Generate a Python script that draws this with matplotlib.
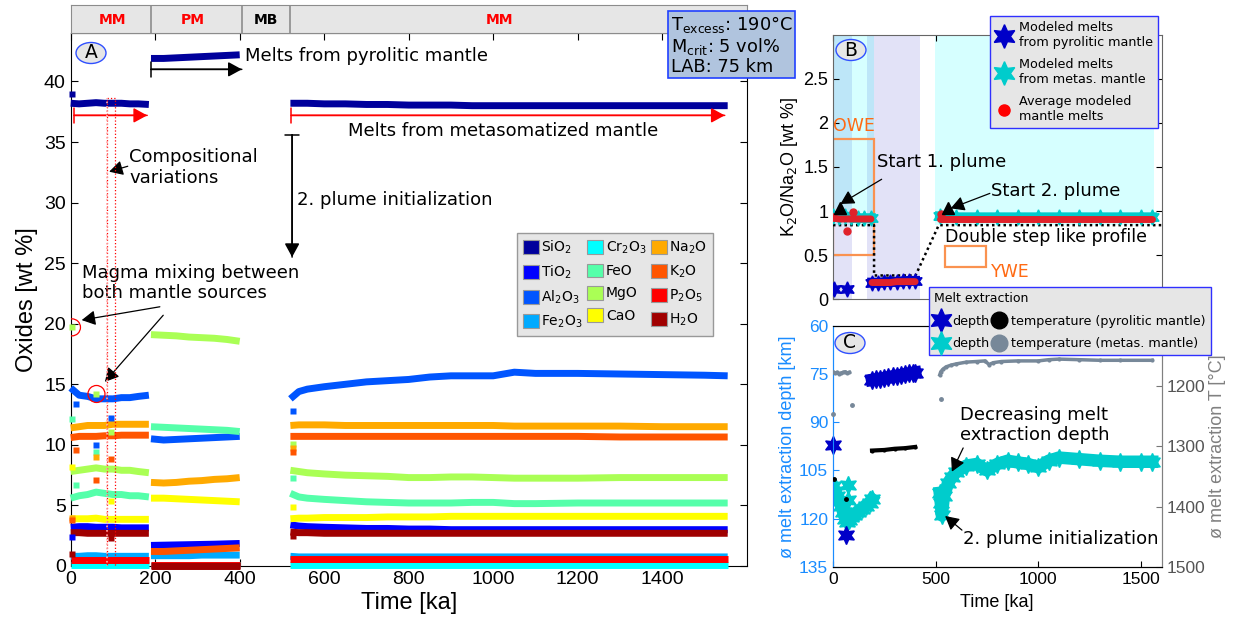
import numpy as np
import matplotlib
matplotlib.use("Agg")
import matplotlib.pyplot as plt
from matplotlib.patches import Rectangle, Patch, Ellipse
from matplotlib.lines import Line2D
from matplotlib.ticker import FormatStrFormatter

plt.rcParams['font.family'] = ['Liberation Sans', 'DejaVu Sans']
plt.rcParams['mathtext.fontset'] = 'dejavusans'
plt.rcParams['xtick.direction'] = 'in'
plt.rcParams['ytick.direction'] = 'in'
DV = 'DejaVu Sans'

# ---------------- panel A: oxides ----------------
t_seg1 = [0, 20, 40, 60, 80, 100, 120, 140, 160, 185]
t_seg2 = [190, 220, 250, 280, 310, 340, 370, 400]
t_seg3 = [520, 540, 560, 600, 650, 700, 750, 800, 850, 900, 950, 1000, 1050,
          1100, 1200, 1300, 1400, 1500, 1555]

oxide_names = ['SiO$_2$', 'TiO$_2$', 'Al$_2$O$_3$', 'Fe$_2$O$_3$', 'Cr$_2$O$_3$', 'FeO',
               'MgO', 'CaO', 'Na$_2$O', 'K$_2$O', 'P$_2$O$_5$', 'H$_2$O']
oxide_colors = ['#00009c', '#0000ff', '#0055ff', '#00aaff', '#00ffff', '#55ffaa',
                '#aaff55', '#ffff00', '#ffaa00', '#ff5500', '#ff0000', '#a00000']

sio2 = ([38.2, 38.15, 38.2, 38.25, 38.2, 38.2, 38.2, 38.15, 38.15, 38.1],
        [41.9, 41.9, 41.95, 42.0, 42.05, 42.1, 42.15, 42.2],
        [38.2, 38.2, 38.2, 38.15, 38.15, 38.1, 38.1, 38.05, 38.05, 38.05, 38.0, 38.0,
         38.0, 38.0, 38.0, 38.0, 38.0, 38.0, 38.0])
tio2 = ([3.2, 3.25, 3.25, 3.2, 3.2, 3.2, 3.15, 3.15, 3.15, 3.15],
        [1.7, 1.72, 1.74, 1.76, 1.78, 1.8, 1.83, 1.86],
        [3.4, 3.3, 3.25, 3.2, 3.15, 3.1, 3.1, 3.05, 3.05, 3.0, 3.0, 3.0, 3.0, 3.0,
         3.0, 3.0, 3.0, 3.0, 3.0])
al2o3 = ([14.7, 14.1, 14.0, 13.8, 13.8, 13.8, 13.9, 13.9, 14.0, 14.1],
         [10.5, 10.4, 10.45, 10.5, 10.55, 10.6, 10.65, 10.7],
         [13.8, 14.4, 14.6, 14.8, 15.0, 15.2, 15.3, 15.4, 15.6, 15.7, 15.7, 15.7, 16.0,
          15.9, 15.9, 15.85, 15.8, 15.75, 15.7])
fe2o3 = ([0.8, 0.8, 0.85, 0.85, 0.8, 0.8, 0.8, 0.8, 0.8, 0.8],
         [0.85, 0.85, 0.85, 0.85, 0.9, 0.9, 0.9, 0.9],
         [0.8, 0.75, 0.75, 0.75, 0.75, 0.75, 0.75, 0.75, 0.75, 0.75, 0.75, 0.75, 0.75,
          0.75, 0.75, 0.75, 0.75, 0.75, 0.75])
cr2o3 = ([0.05, 0.05, 0.05, 0.05, 0.05, 0.05, 0.05, 0.05, 0.05, 0.05],
         [0.05, 0.05, 0.05, 0.05, 0.05, 0.05, 0.05, 0.05],
         [0.05, 0.05, 0.05, 0.05, 0.05, 0.05, 0.05, 0.05, 0.05, 0.05, 0.05, 0.05, 0.05,
          0.05, 0.05, 0.05, 0.05, 0.05, 0.05])
feo = ([5.6, 5.8, 5.9, 6.1, 6.0, 5.9, 5.9, 5.8, 5.8, 5.7],
       [11.5, 11.45, 11.4, 11.35, 11.3, 11.25, 11.2, 11.1],
       [6.0, 5.7, 5.6, 5.5, 5.4, 5.3, 5.25, 5.2, 5.2, 5.2, 5.25, 5.25, 5.15, 5.15,
        5.2, 5.2, 5.2, 5.2, 5.2])
mgo = ([7.8, 7.9, 8.0, 8.1, 8.0, 8.0, 7.9, 7.9, 7.8, 7.7],
       [19.1, 19.05, 19.0, 18.9, 18.85, 18.8, 18.7, 18.55],
       [7.9, 7.8, 7.7, 7.6, 7.5, 7.45, 7.4, 7.3, 7.3, 7.35, 7.35, 7.3, 7.25, 7.25,
        7.25, 7.3, 7.3, 7.3, 7.3])
cao = ([3.9, 3.9, 3.9, 3.95, 3.85, 3.85, 3.85, 3.85, 3.85, 3.85],
       [5.6, 5.6, 5.55, 5.5, 5.45, 5.4, 5.35, 5.3],
       [3.9, 3.95, 3.95, 4.0, 4.0, 4.0, 4.05, 4.05, 4.05, 4.1, 4.1, 4.1, 4.1, 4.1,
        4.1, 4.1, 4.1, 4.1, 4.1])
na2o = ([11.4, 11.5, 11.6, 11.6, 11.6, 11.7, 11.7, 11.7, 11.7, 11.7],
        [6.9, 6.85, 6.9, 7.0, 7.05, 7.15, 7.2, 7.3],
        [11.6, 11.65, 11.65, 11.65, 11.6, 11.6, 11.6, 11.6, 11.6, 11.6, 11.6, 11.6,
         11.55, 11.55, 11.55, 11.55, 11.5, 11.5, 11.5])
k2o = ([10.6, 10.7, 10.7, 10.7, 10.75, 10.75, 10.8, 10.8, 10.8, 10.8],
       [1.2, 1.2, 1.25, 1.3, 1.35, 1.4, 1.45, 1.5],
       [10.7, 10.7, 10.7, 10.7, 10.7, 10.7, 10.7, 10.7, 10.7, 10.7, 10.7, 10.7, 10.7,
        10.7, 10.7, 10.65, 10.65, 10.65, 10.65])
p2o5 = ([0.5, 0.5, 0.5, 0.5, 0.5, 0.5, 0.5, 0.5, 0.5, 0.5],
        [0.1, 0.1, 0.1, 0.1, 0.1, 0.1, 0.1, 0.1],
        [0.6, 0.6, 0.6, 0.6, 0.6, 0.6, 0.6, 0.6, 0.6, 0.6, 0.6, 0.6, 0.6, 0.6, 0.6,
         0.6, 0.6, 0.6, 0.6])
h2o = ([2.75, 2.75, 2.7, 2.7, 2.7, 2.7, 2.7, 2.7, 2.7, 2.7],
       [0.02, 0.02, 0.02, 0.02, 0.02, 0.02, 0.02, 0.02],
       [2.8, 2.75, 2.75, 2.7, 2.7, 2.7, 2.7, 2.7, 2.7, 2.7, 2.7, 2.7, 2.7, 2.7, 2.7,
        2.7, 2.7, 2.7, 2.7])
oxide_series = [sio2, tio2, al2o3, fe2o3, cr2o3, feo, mgo, cao, na2o, k2o, p2o5, h2o]

# single scattered samples (index into oxide_names)
out_time = [2, 2, 61, 12, 95, 2, 95, 61, 12, 61, 61, 95, 2, 61, 12, 95, 2, 2, 2, 95, 2,
            525, 525, 525, 525, 525, 525, 525]
out_value = [39.0, 19.7, 14.2, 13.4, 12.2, 12.1, 11.1, 10.0, 9.6, 9.4, 9.0, 8.8, 8.2, 7.1,
             6.7, 5.4, 4.0, 3.8, 2.4, 2.3, 1.0,
             12.8, 10.1, 9.7, 9.4, 7.3, 4.9, 2.5]
out_oxide = [0, 6, 6, 2, 2, 5, 6, 2, 9, 5, 8, 9, 7, 9, 5, 7, 8, 9, 1, 11, 11,
             2, 6, 8, 9, 5, 7, 11]
mix_time = [3, 61]
mix_value = [19.7, 14.2]

stage_bounds = [190, 405, 520]
stage_labels = ['MM', 'PM', 'MB', 'MM']
stage_centers = [100, 290, 463, 1015]
stage_colors = ['#ff0000', '#ff0000', '#000000', '#ff0000']

# ---------------- panel B: K2O/Na2O ----------------
b_pyro_t1 = [5, 67]
b_pyro_v1 = [0.12, 0.12]
b_pyro_t2 = [190, 220, 250, 280, 310, 340, 370, 400]
b_pyro_v2 = [0.19, 0.19, 0.195, 0.2, 0.2, 0.205, 0.21, 0.21]
b_meta_t1 = [0, 30, 60, 90, 120, 150, 185]
b_meta_v1 = [0.94, 0.93, 0.94, 0.93, 0.92, 0.92, 0.92]
b_meta_t2 = [520, 600, 700, 800, 900, 1000, 1100, 1200, 1300, 1400, 1500, 1555]
b_meta_v2 = [0.94, 0.93, 0.93, 0.93, 0.93, 0.93, 0.93, 0.93, 0.93, 0.93, 0.93, 0.93]
b_avg_v1 = [0.92, 0.91, 0.91, 0.91, 0.91, 0.91, 0.91]
b_avg_v2 = [0.19, 0.19, 0.19, 0.19, 0.2, 0.2, 0.2, 0.2]
b_avg_v3 = [0.91, 0.91, 0.91, 0.91, 0.91, 0.91, 0.91, 0.91, 0.91, 0.91, 0.91, 0.91]
b_avg_out_t = [0, 67, 96, 528]
b_avg_out_v = [0.93, 0.77, 0.985, 0.97]
b_start_t = [32, 562]
b_start_v = [1.04, 1.03]
profile_t = [0, 200, 200, 402, 515, 1600]
profile_v = [0.84, 0.84, 0.27, 0.27, 0.84, 0.84]
pyro_spans = [(0, 92), (165, 425)]
meta_spans = [(0, 200), (495, 1565)]

# ---------------- panel C: melt extraction ----------------
c_pyro_t1 = [0, 65]
c_pyro_d1 = [97, 125]
c_pyro_t2 = [190, 210, 230, 250, 270, 290, 310, 330, 350, 370, 390, 400]
c_pyro_d2 = [76.8, 76.6, 76.4, 76.2, 76.0, 75.7, 75.5, 75.3, 75.0, 74.8, 74.6, 74.5]
c_meta_t1 = [0, 10, 20, 30, 40, 50, 60, 70, 80, 90, 100, 120, 140, 160, 180, 190]
c_meta_d1 = [110, 111.5, 113, 114.5, 116, 118, 120, 121, 120.5, 119.5, 119, 118, 117,
             116, 115, 114]
c_meta_out_t = [72, 75]
c_meta_out_d = [109.6, 114.2]
c_meta_t2 = [520, 525, 530, 540, 560, 580, 600, 650, 700, 750, 800, 850, 900, 950,
             1000, 1050, 1100, 1200, 1300, 1400, 1500, 1555]
c_meta_d2 = [112, 115, 119, 113, 109, 107, 105.5, 103.5, 103, 105, 103, 102, 102.5,
             103, 104, 102, 101, 101.5, 102, 102.3, 102.3, 102.3]
c_tmeta_t1 = [0, 10, 20, 30, 40, 50, 60, 70, 80]
c_tmeta_v1 = [1176, 1178, 1177, 1179, 1178, 1177, 1176, 1178, 1177]
c_tmeta_t2 = [520, 525, 535, 550, 575, 600, 650, 700, 740, 760, 780, 820, 900, 1000,
              1050, 1100, 1200, 1300, 1400, 1555]
c_tmeta_v2 = [1181, 1176, 1172, 1168, 1165, 1163, 1160, 1159, 1158, 1164, 1161, 1159,
              1158, 1158, 1156, 1155, 1156, 1157, 1157, 1157]
c_tmeta_out_t = [0, 93, 528]
c_tmeta_out_v = [1247, 1231, 1222]
c_tpyro_t = [190, 250, 300, 350, 400]
c_tpyro_v = [1307, 1306, 1304, 1303, 1301]
c_tpyro_out_t = [5, 64]
c_tpyro_out_v = [1355, 1388]

PYRO = '#0000c8'
META = '#00cccc'
STAR = (6, 1, 0)

W, H = 1233, 622
fig = plt.figure(figsize=(W / 100, H / 100), dpi=100)


def fx(px):
    return px / W


def fy(py):
    return 1 - py / H


# ---------- A ----------
axA = fig.add_axes([fx(70.7), fy(566), fx(746.7 - 70.7), (566 - 33) / H])
for vals, col in zip(oxide_series, oxide_colors):
    for t, v in zip([t_seg1, t_seg2, t_seg3], vals):
        axA.plot(t, v, color=col, lw=5, solid_capstyle='butt', clip_on=False, zorder=3)
for t, v, o in zip(out_time, out_value, out_oxide):
    axA.plot(t, v, 's', color=oxide_colors[o], ms=5, mec='none', clip_on=False, zorder=4)
axA.scatter(mix_time, mix_value, s=150, facecolors='none', edgecolors='red', lw=0.9, zorder=5)
axA.add_patch(Rectangle((85, -0.1), 20, 38.7, fill=False, ec='red', ls=':', lw=0.9, zorder=5))
axA.plot([85, 85], [-0.1, 38.6], ls=':', color='#ffaaaa', lw=1.2, zorder=5)

axA.set_xlim(0, 1600)
axA.set_ylim(0, 44)
axA.set_xticks(range(0, 1401, 200))
axA.set_yticks(range(0, 41, 5))
axA.tick_params(top=True, right=True, labelsize=14, length=5)
axA.set_xlabel('Time [ka]', fontsize=17, labelpad=3)
axA.set_ylabel('Oxides [wt %]', fontsize=17, labelpad=4)

arrow_k = dict(arrowstyle='-|>,head_length=0.55,head_width=0.3', color='black',
               lw=1.1, shrinkA=0, shrinkB=0, mutation_scale=15)
arrow_r = dict(arrow_k, color='red')
bar_k = dict(arrowstyle='|-|,widthA=0.35,widthB=0', color='black', lw=1.1,
             shrinkA=0, shrinkB=0, mutation_scale=15)
bar_r = dict(bar_k, color='red')
for y, x0, x1, ap, bp in [(41.0, 190, 405, arrow_k, bar_k),
                          (37.2, 8, 181, arrow_r, bar_r),
                          (37.2, 522, 1548, arrow_r, bar_r)]:
    axA.annotate('', xy=(x1, y), xytext=(x0, y), arrowprops=ap)
    axA.annotate('', xy=(x1, y), xytext=(x0, y), arrowprops=bp)
axA.annotate('', xy=(524, 25.5), xytext=(524, 35.6), arrowprops=arrow_k)
axA.annotate('', xy=(524, 25.5), xytext=(524, 35.6), arrowprops=bar_k)

tk = dict(fontsize=13, family=DV, va='center', ha='left')
axA.text(412, 42.1, 'Melts from pyrolitic mantle', **tk)
axA.text(656, 35.95, 'Melts from metasomatized mantle', **tk)
axA.text(535, 30.25, '2. plume initialization', **tk)
axA.text(139, 32.9, 'Compositional\nvariations', linespacing=1.15, **tk)
axA.annotate('', xy=(91, 32.55), xytext=(135, 33.0),
             arrowprops=dict(arrow_k, lw=0.9))
axA.text(26, 23.35, 'Magma mixing between\nboth mantle sources', linespacing=1.15, **tk)
axA.annotate('', xy=(26, 20.3), xytext=(211, 21.4), arrowprops=dict(arrow_k, lw=0.9))
axA.annotate('', xy=(81, 15.2), xytext=(219, 20.7), arrowprops=dict(arrow_k, lw=0.9))

handles = [Patch(facecolor=c, edgecolor='#999999', lw=0.8) for c in oxide_colors]
legA = fig.legend(handles, oxide_names, ncol=3, loc='upper left',
                  bbox_to_anchor=(fx(517), fy(233)), bbox_transform=fig.transFigure,
                  prop={'family': DV, 'size': 10}, handlelength=1.15, handleheight=1.15,
                  handletextpad=0.2, columnspacing=0.3, labelspacing=0.55,
                  borderpad=0.4, fancybox=False, framealpha=1, borderaxespad=0)
legA.get_frame().set_facecolor('#e6e6e6')
legA.get_frame().set_edgecolor('#999999')

# stage strip
axT = fig.add_axes([fx(70.7), fy(33), fx(746.7 - 70.7), 28 / H])
axT.set_facecolor('#e6e6e6')
axT.set_xlim(0, 1600)
axT.set_ylim(0, 1)
for b in stage_bounds:
    axT.axvline(b, color='#8c8c8c', lw=1.2)
for lab, c, col in zip(stage_labels, stage_centers, stage_colors):
    axT.text(c, 0.45, lab, color=col, fontsize=10, fontweight='bold', family=DV,
             ha='center', va='center')
axT.set_xticks([])
axT.set_yticks([])
for s in axT.spines.values():
    s.set_color('#8c8c8c')

# ---------- B ----------
axB = fig.add_axes([fx(833), fy(299.3), fx(1161.5 - 833), (299.3 - 34.5) / H])
axB.set_xlim(0, 1600)
axB.set_ylim(0, 3)
for a, b in pyro_spans:
    axB.add_patch(Rectangle((a, 0), b - a, 3, fc='#e2e2f7', ec='none', zorder=0))
for a, b in meta_spans:
    axB.add_patch(Rectangle((a, 0.84), b - a, 3, fc=(0.0, 1.0, 1.0, 0.16), ec='none', zorder=0.5))
axB.add_patch(Rectangle((0, 0.5), 200, 1.32, fill=False, ec='#fa9250', lw=1.6, zorder=2))
axB.add_patch(Rectangle((547, 0.37), 198, 0.23, fill=False, ec='#fa9250', lw=1.6, zorder=2))
axB.text(0, 1.86, 'OWE', color='#ff6a13', fontsize=12.5, family=DV, va='bottom', ha='left')
axB.text(770, 0.31, 'YWE', color='#ff6a13', fontsize=12.5, family=DV, va='center', ha='left')
axB.plot(profile_t, profile_v, color='black', lw=1.8, ls=(0, (1, 1.3)), zorder=3)

axB.plot(b_pyro_t1, b_pyro_v1, ls='none', marker=STAR, ms=11, color=PYRO, zorder=4)
axB.plot(b_pyro_t2, b_pyro_v2, ls='-', lw=7, marker=STAR, ms=11, color=PYRO, zorder=4)
axB.plot(b_meta_t1, b_meta_v1, ls='-', lw=7, marker=STAR, ms=11, color=META, zorder=4)
axB.plot(b_meta_t2, b_meta_v2, ls='-', lw=7, marker=STAR, ms=11, color=META, zorder=4)
for t, v in [(b_meta_t1, b_avg_v1), (b_pyro_t2, b_avg_v2), (b_meta_t2, b_avg_v3)]:
    axB.plot(t, v, color='#e0222a', lw=5, solid_capstyle='round', zorder=5)
axB.plot(b_avg_out_t, b_avg_out_v, 'o', color='#e0222a', ms=5, zorder=5)
axB.plot(b_start_t, b_start_v, '^', color='black', ms=9, zorder=6)

axB.set_xticks([0, 500, 1000, 1500])
axB.set_xticklabels([])
axB.set_yticks([0, 0.5, 1, 1.5, 2, 2.5])
axB.yaxis.set_major_formatter(FormatStrFormatter('%g'))
axB.tick_params(top=True, right=True, labelsize=13, length=4)
for s in axB.spines.values():
    s.set_color('#666666')
axB.set_ylabel('K$_2$O/Na$_2$O [wt %]', fontsize=13, labelpad=2)
tb = dict(fontsize=13, family=DV, va='center', ha='left', zorder=7)
axB.text(215, 1.55, 'Start 1. plume', **tb)
axB.annotate('', xy=(36, 1.08), xytext=(237, 1.36), arrowprops=dict(arrow_k, lw=0.9))
axB.text(768, 1.23, 'Start 2. plume', **tb)
axB.annotate('', xy=(573, 1.03), xytext=(764, 1.2), arrowprops=dict(arrow_k, lw=0.9))
axB.text(545, 0.71, 'Double step like profile', **dict(tb, fontsize=12.5))

legB_handles = [Line2D([], [], ls='none', marker=STAR, ms=17, color=PYRO),
                Line2D([], [], ls='none', marker=STAR, ms=17, color=META),
                Line2D([], [], ls='none', marker='o', ms=8, color='#ff0000')]
legB = fig.legend(legB_handles, ['Modeled melts\nfrom pyrolitic mantle',
                                 'Modeled melts\nfrom metas. mantle',
                                 'Average modeled\nmantle melts'],
                  loc='upper left', bbox_to_anchor=(fx(990), fy(16)),
                  bbox_transform=fig.transFigure, prop={'family': DV, 'size': 9.2},
                  handlelength=1.4, handletextpad=0.45, labelspacing=0.7,
                  borderpad=0.4, fancybox=False, framealpha=1, borderaxespad=0)
legB.get_frame().set_facecolor('#e6e6e6')
legB.get_frame().set_edgecolor('#3030ff')

# ---------- C ----------
axC = fig.add_axes([fx(833), fy(566.7), fx(1161.5 - 833), (566.7 - 326) / H])
axC.set_xlim(0, 1600)
axC.set_ylim(135, 60)
axC.plot(c_meta_t1, c_meta_d1, ls='-', lw=9, marker=STAR, ms=13, color=META, zorder=3)
axC.plot(c_meta_out_t, c_meta_out_d, ls='none', marker=STAR, ms=13, color=META, zorder=3)
axC.plot(c_meta_t2, c_meta_d2, ls='-', lw=9, marker=STAR, ms=13, color=META, zorder=3)
axC.plot(c_pyro_t2, c_pyro_d2, ls='-', lw=9, marker=STAR, ms=13, color=PYRO, zorder=4)
axC.plot(c_pyro_t1, c_pyro_d1, ls='none', marker=STAR, ms=13, color=PYRO, zorder=4, clip_on=False)
axC.set_xticks([0, 500, 1000, 1500])
axC.set_yticks([60, 75, 90, 105, 120, 135])
axC.tick_params(labelsize=12.5, length=4)
axC.tick_params(axis='y', colors='#1a8cff', labelcolor='#1a8cff')
axC.spines['left'].set_color('#1a8cff')
axC.spines['right'].set_color('#808080')
axC.spines['top'].set_color('#555555')
axC.set_xlabel('Time [ka]', fontsize=13, labelpad=5)
axC.set_ylabel('ø melt extraction depth [km]', fontsize=13, color='#1a8cff', labelpad=2)

axCT = axC.twinx()
axCT.set_ylim(1500, 1100)
axCT.plot(c_tmeta_t1, c_tmeta_v1, '.-', color='#778899', lw=2.5, ms=4, zorder=3)
axCT.plot(c_tmeta_t2, c_tmeta_v2, '.-', color='#778899', lw=2.5, ms=4, zorder=3)
axCT.plot(c_tmeta_out_t, c_tmeta_out_v, '.', color='#778899', ms=5, zorder=3, clip_on=False)
axCT.plot(c_tpyro_t, c_tpyro_v, '.-', color='black', lw=3, ms=4, zorder=3)
axCT.plot(c_tpyro_out_t, c_tpyro_out_v, '.', color='black', ms=5, zorder=3)
axCT.set_yticks([1200, 1300, 1400, 1500])
axCT.tick_params(labelsize=12.5, length=4, colors='#777777', labelcolor='#555555')
axCT.spines['right'].set_color('#808080')
axCT.spines['left'].set_color('#1a8cff')
axCT.set_ylabel('ø melt extraction T [°C]', fontsize=13, color='#808080', labelpad=3)

tc = dict(fontsize=13, family=DV, va='center', ha='left', zorder=7)
axC.text(620, 90.9, 'Decreasing melt\nextraction depth', linespacing=1.1, **tc)
axC.annotate('', xy=(579, 105.4), xytext=(634, 98.0), arrowprops=dict(arrow_k, lw=0.9))
axC.text(632, 126.4, '2. plume initialization', **tc)
axC.annotate('', xy=(546, 119.2), xytext=(628, 123.6), arrowprops=dict(arrow_k, lw=0.9))

legC_handles = [Line2D([], [], ls='none', marker=STAR, ms=17, color=PYRO),
                Line2D([], [], ls='none', marker=STAR, ms=17, color=META),
                Line2D([], [], ls='none', marker='o', ms=12, color='black'),
                Line2D([], [], ls='none', marker='o', ms=12, color='#778899')]
legC = fig.legend(legC_handles, ['depth', 'depth', 'temperature (pyrolitic mantle)',
                                 'temperature (metas. mantle)'],
                  ncol=2, title='Melt extraction', alignment='left',
                  loc='upper left', bbox_to_anchor=(fx(929), fy(287)),
                  bbox_transform=fig.transFigure, prop={'family': DV, 'size': 9.2},
                  title_fontproperties={'family': DV, 'size': 9},
                  handlelength=1.1, handletextpad=0.35, columnspacing=0.2,
                  labelspacing=0.75, borderpad=0.4, fancybox=False, framealpha=1,
                  borderaxespad=0)
legC.get_frame().set_facecolor('#e6e6e6')
legC.get_frame().set_edgecolor('#3030ff')

# panel letters and parameter box
for lab, px, py in [('A', 91, 53), ('B', 851, 50), ('C', 850, 343)]:
    fig.add_artist(Ellipse((fx(px), fy(py)), 30 / W, 21 / H, transform=fig.transFigure,
                           fc='#e6e6e6', ec='#3050ff', lw=1, zorder=10))
    fig.text(fx(px), fy(py), lab, fontsize=13.5, family=DV, ha='center', va='center',
             zorder=11)
fig.text(fx(671), fy(45), 'T$_{\\mathrm{excess}}$: 190°C\nM$_{\\mathrm{crit}}$: 5 vol%\nLAB: 75 km',
         fontsize=12.8, family=DV, ha='left', va='center', linespacing=1.05,
         bbox=dict(boxstyle='square,pad=0.15', fc='#b0c4de', ec='#2040ff', lw=1.2))

fig.savefig('out.png', dpi=100)
